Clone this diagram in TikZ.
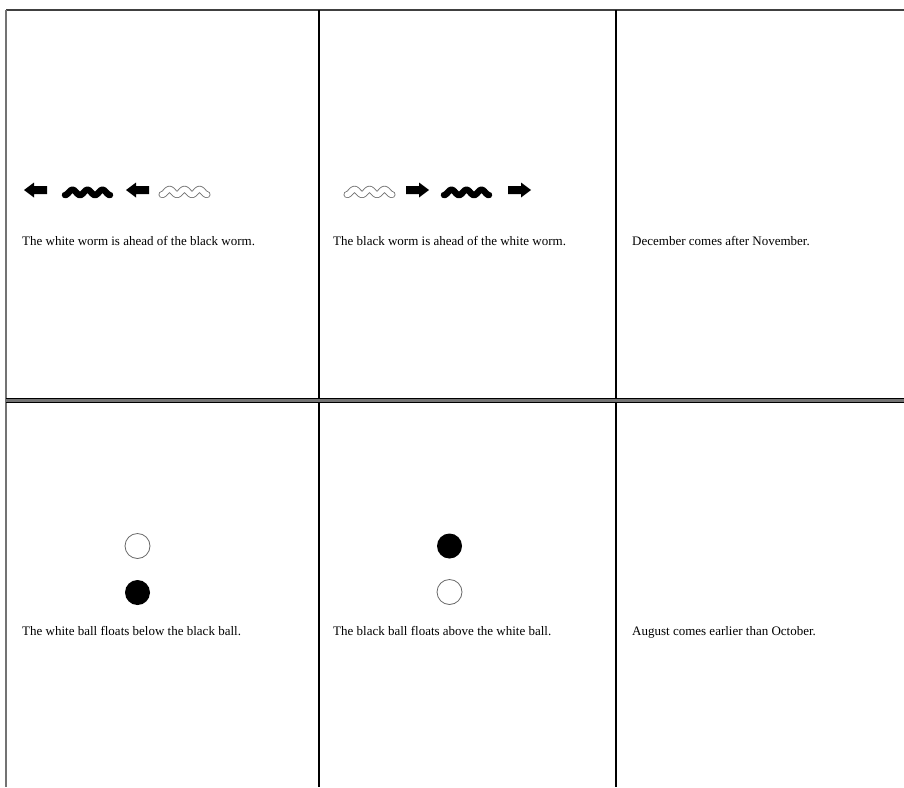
\documentclass[tikz,border=0pt]{standalone}
\usepackage{fontspec}
\setmainfont{Liberation Serif}
\begin{document}
\begin{tikzpicture}[x=1pt,y=-1pt,
  lbl/.style={anchor=base west,inner sep=0pt,font=\fontsize{13}{15}\selectfont},
  wormblack/.style={line width=6.5pt,line cap=round,line join=round},
  wormedge/.style={line width=7pt,line cap=round,line join=round,draw=black!55},
  wormfill/.style={line width=5.2pt,line cap=round,line join=round,draw=white},
  blockarrow/.style={fill=black},
  ballw/.style={circle,draw=black!60,fill=white,minimum size=25pt,inner sep=0pt,line width=0.8pt},
  ballb/.style={circle,fill=black,minimum size=25pt,inner sep=0pt},
  grid/.style={line width=1.5pt,draw=black}]
\useasboundingbox (0,0) rectangle (904,787);
% frame lines
\draw[line width=2pt,draw=black!75] (6,10) -- (904,10);
\draw[line width=2pt,draw=black!55] (6,10) -- (6,787);
\draw[grid] (319,10) -- (319,787);
\draw[grid] (616,10) -- (616,787);
\draw[line width=5pt,draw=black] (6,400.5) -- (904,400.5);
\draw[line width=2.6pt,draw=black!55] (6,400.5) -- (904,400.5);
% panel 1
\fill[blockarrow] (24,190) -- (34,182.5) -- (34,186) -- (47,186) -- (47,194) -- (34,194) -- (34,197.5) -- cycle;
\draw[wormblack] plot[domain=0:45,samples=90] ({65+\x},{195-2.6*(1-cos(\x*360/15))});
\fill[blockarrow] (126,190) -- (136,182.5) -- (136,186) -- (149,186) -- (149,194) -- (136,194) -- (136,197.5) -- cycle;
\draw[wormedge] plot[domain=0:45,samples=90] ({162+\x},{194.5-2.6*(1-cos(\x*360/15))});
\draw[wormfill] plot[domain=0:45,samples=90] ({162+\x},{194.5-2.6*(1-cos(\x*360/15))});
\node[lbl] (t1) at (22,245) {The white worm is ahead of the black worm.};
% panel 2
\draw[wormedge] plot[domain=0:45,samples=90] ({347+\x},{194.5-2.6*(1-cos(\x*360/15))});
\draw[wormfill] plot[domain=0:45,samples=90] ({347+\x},{194.5-2.6*(1-cos(\x*360/15))});
\fill[blockarrow] (429,190) -- (419,182.5) -- (419,186) -- (406,186) -- (406,194) -- (419,194) -- (419,197.5) -- cycle;
\draw[wormblack] plot[domain=0:45,samples=90] ({444+\x},{195-2.6*(1-cos(\x*360/15))});
\fill[blockarrow] (531,190) -- (521,182.5) -- (521,186) -- (508,186) -- (508,194) -- (521,194) -- (521,197.5) -- cycle;
\node[lbl] (t2) at (333,245) {The black worm is ahead of the white worm.};
% panel 3
\node[lbl] (t3) at (632,245) {December comes after November.};
% panel 4
\node[ballw] (w4) at (137.5,546) {};
\node[ballb] (b4) at (137.5,592.5) {};
\node[lbl] (t4) at (22,635) {The white ball floats below the black ball.};
% panel 5
\node[ballb] (b5) at (449.5,546) {};
\node[ballw] (w5) at (449.5,592) {};
\node[lbl] (t5) at (333,635) {The black ball floats above the white ball.};
% panel 6
\node[lbl] (t6) at (632,635) {August comes earlier than October.};
\end{tikzpicture}
\end{document}
